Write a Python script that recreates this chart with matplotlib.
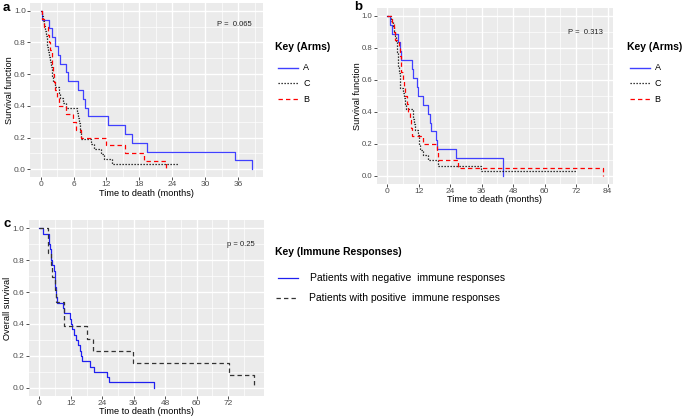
import numpy as np
import matplotlib
matplotlib.use("Agg")
import matplotlib.pyplot as plt
from matplotlib.lines import Line2D
from matplotlib.ticker import MultipleLocator, FixedLocator, FormatStrFormatter

plt.rcParams['font.family'] = ['Liberation Sans', 'DejaVu Sans']

# ---- panel a: survival by arm (time in months, survival after each event)
a_A_t = [0.2, 1.6, 2.05, 2.65, 3.1, 3.45, 4.65, 4.95, 6.9, 7.65, 8.1, 8.55, 12.35, 15.35, 16.7, 19.4, 35.35, 38.6]
a_A_s = [0.944, 0.889, 0.833, 0.778, 0.722, 0.667, 0.611, 0.556, 0.5, 0.444, 0.389, 0.333, 0.278, 0.222, 0.167, 0.111, 0.056, 0.0]
a_C_t = [0.2, 0.4, 0.6, 0.8, 1.0, 1.1, 1.2, 1.3, 1.5, 1.7, 1.9, 2.0, 2.1, 2.2, 2.7, 3.4, 3.6, 4.0, 4.7,
         6.6, 6.9, 7.0, 7.1, 7.2, 7.4, 9.2, 9.8, 11.0, 11.6, 13.0, 25.1]
a_C_s = [0.968, 0.935, 0.903, 0.871, 0.839, 0.806, 0.774, 0.742, 0.71, 0.677, 0.645, 0.613, 0.581, 0.548,
         0.516, 0.484, 0.452, 0.419, 0.387, 0.355, 0.323, 0.29, 0.258, 0.226, 0.194, 0.161, 0.129, 0.097,
         0.065, 0.032, 0.032]
a_B_t = [0.2, 0.6, 1.3, 1.5, 1.8, 2.0, 2.1, 2.2, 2.4, 2.6, 3.0, 3.3, 4.6, 5.9, 6.4, 7.3, 12.0, 15.4, 18.8, 22.9]
a_B_s = [0.95, 0.9, 0.85, 0.8, 0.75, 0.7, 0.65, 0.6, 0.55, 0.5, 0.45, 0.4, 0.35, 0.3, 0.25, 0.2, 0.15, 0.1, 0.05, 0.0]

# ---- panel b
b_A_t = [0.8, 1.65, 4.2, 4.8, 5.2, 9.5, 9.7, 11.4, 11.5, 13.4, 15.3, 16.2, 16.6, 18.5, 19.1, 26.3, 44.1]
b_A_s = [0.944, 0.889, 0.833, 0.778, 0.722, 0.667, 0.611, 0.556, 0.5, 0.444, 0.389, 0.333, 0.278, 0.222, 0.167, 0.111, 0.0]
b_C_t = [1.3, 2.0, 2.5, 3.0, 3.2, 3.5, 3.7, 3.9, 4.0, 4.2, 4.4, 4.6, 4.7, 4.8, 6.1, 6.3, 6.6, 7.0, 9.6,
         9.9, 10.2, 10.5, 11.7, 12.0, 12.2, 12.4, 13.4, 15.6, 19.2, 35.8, 72.5]
b_C_s = [0.968, 0.935, 0.903, 0.871, 0.839, 0.806, 0.774, 0.742, 0.71, 0.677, 0.645, 0.613, 0.581, 0.548,
         0.516, 0.484, 0.452, 0.419, 0.387, 0.355, 0.323, 0.29, 0.258, 0.226, 0.194, 0.161, 0.129, 0.097,
         0.065, 0.029, 0.029]
b_B_t = [1.9, 2.5, 3.0, 4.3, 4.8, 5.0, 5.3, 6.0, 6.3, 6.6, 7.4, 8.0, 8.6, 9.0, 9.5, 13.7, 19.0, 19.4, 26.9, 82.1]
b_B_s = [0.95, 0.9, 0.85, 0.8, 0.75, 0.7, 0.65, 0.6, 0.55, 0.5, 0.45, 0.4, 0.35, 0.3, 0.25, 0.2, 0.15, 0.1, 0.05, 0.0]

# ---- panel c: by immune response
c_neg_t = [1.5, 3.6, 3.8, 4.0, 4.3, 4.6, 5.0, 5.5, 5.8, 6.0, 6.1, 6.2, 6.4, 6.6, 9.2, 9.4, 11.6, 11.9,
           12.5, 13.3, 14.0, 14.8, 15.6, 15.9, 16.4, 19.3, 21.0, 25.7, 26.6, 43.9]
c_neg_s = [0.967, 0.933, 0.9, 0.867, 0.833, 0.8, 0.767, 0.733, 0.7, 0.667, 0.633, 0.6, 0.567, 0.533, 0.5,
           0.467, 0.433, 0.4, 0.367, 0.333, 0.3, 0.267, 0.233, 0.2, 0.167, 0.133, 0.1, 0.067, 0.033, 0.0]
c_pos_t = [3.2, 3.4, 4.5, 5.0, 6.0, 6.2, 9.3, 9.6, 18.3, 20.4, 35.6, 72.3, 81.7]
c_pos_s = [0.923, 0.846, 0.769, 0.692, 0.615, 0.538, 0.462, 0.385, 0.308, 0.231, 0.154, 0.077, 0.0]
c_breaks = [0, 12, 24, 36, 48, 60, 72]

W, H = 685, 417
fig = plt.figure(figsize=(W / 100, H / 100), dpi=100)


def box(l, t, r, b):
    return [l / W, 1 - b / H, (r - l) / W, (b - t) / H]


def fx(px):
    return px / W


def fy(py):
    return 1 - py / H


def km(ax, t, s, **kw):
    ax.step([0] + list(t), [1.0] + list(s), where='post', **kw)


def style(ax, xmax, step, breaks=None):
    ax.set_facecolor('#EBEBEB')
    ax.set_xlim(-0.05 * xmax, 1.05 * xmax)
    ax.set_ylim(-0.05, 1.05)
    if breaks is None:
        ax.xaxis.set_major_locator(MultipleLocator(step))
        ax.xaxis.set_minor_locator(MultipleLocator(step / 2))
    else:
        ax.xaxis.set_major_locator(FixedLocator(breaks))
        ax.xaxis.set_minor_locator(FixedLocator([b + step / 2 for b in breaks]))
    ax.yaxis.set_major_locator(MultipleLocator(0.2))
    ax.yaxis.set_minor_locator(MultipleLocator(0.1))
    ax.yaxis.set_major_formatter(FormatStrFormatter('%.1f'))
    ax.grid(which='major', color='white', lw=1.0)
    ax.grid(which='minor', color='white', lw=0.5)
    ax.set_axisbelow(True)
    for sp in ax.spines.values():
        sp.set_visible(False)
    ax.tick_params(which='major', length=2, width=0.6, color='#333333', labelsize=6,
                   labelcolor='#4D4D4D', pad=1)
    ax.tick_params(which='minor', length=0)


BLUE = '#4040FF'
dot = (0, (1, 1.4))
dash = (0, (3.5, 2.5))

# panel a
axa = fig.add_axes(box(30, 2.8, 263, 177.2))
km(axa, a_A_t, a_A_s, color=BLUE, lw=0.9)
km(axa, a_C_t, a_C_s, color='black', lw=0.9, linestyle=dot)
km(axa, a_B_t, a_B_s, color='red', lw=0.9, linestyle=dash)
style(axa, max(a_A_t + a_C_t + a_B_t), 6)

# panel b
axb = fig.add_axes(box(376.7, 7.7, 613.3, 184))
km(axb, b_A_t, b_A_s, color=BLUE, lw=0.9)
km(axb, b_C_t, b_C_s, color='black', lw=0.9, linestyle=dot)
km(axb, b_B_t, b_B_s, color='red', lw=0.9, linestyle=dash)
style(axb, max(b_A_t + b_C_t + b_B_t), 12)
axb.tick_params(axis='y', labelsize=5.6)

# panel c
axc = fig.add_axes(box(28.6, 220.3, 264.3, 395.7))
km(axc, c_neg_t, c_neg_s, color='#2020F0', lw=0.9)
km(axc, c_pos_t, c_pos_s, color='#333333', lw=0.9, linestyle=dash)
style(axc, max(c_neg_t + c_pos_t), 12, c_breaks)

# axis titles
lab = dict(fontsize=6.6, color='black')
fig.text(fx(146), fy(193), 'Time to death (months)', ha='center', va='center', **lab)
fig.text(fx(10), fy(90), 'Survival function', rotation=90, ha='center', va='center', **lab)
fig.text(fx(494), fy(199.5), 'Time to death (months)', ha='center', va='center', **lab)
fig.text(fx(357), fy(96), 'Survival function', rotation=90, ha='center', va='center', **lab)
fig.text(fx(146), fy(411), 'Time to death (months)', ha='center', va='center', **lab)
fig.text(fx(8), fy(308), 'Overall survival', rotation=90, ha='center', va='center', **lab)

# panel letters
for s, x, y in [('a', 3, 8), ('b', 354, 7), ('c', 4, 224)]:
    fig.text(fx(x), fy(y), s, fontsize=9.5, fontweight='bold', ha='left', va='center')

# p values
fig.text(fx(216.7), fy(25), 'P =  0.065', fontsize=5.5, color='#222222', ha='left', va='center')
fig.text(fx(567.7), fy(32), 'P =  0.313', fontsize=5.5, color='#222222', ha='left', va='center')
fig.text(fx(227.3), fy(245), 'p = 0.25', fontsize=5.5, color='#222222', ha='left', va='center')


# legends
def key_line(x0, x1, y, **kw):
    fig.add_artist(Line2D([fx(x0), fx(x1)], [fy(y), fy(y)], transform=fig.transFigure, **kw))


arm_names = ['A', 'C', 'B']
arm_styles = [dict(color=BLUE, lw=1.0),
              dict(color='black', lw=0.9, linestyle=dot),
              dict(color='red', lw=0.9, linestyle=dash)]
arm_y = [67.7, 83.3, 99.3]
for lx in [275, 626.7]:
    fig.text(fx(lx), fy(46.7), 'Key (Arms)', fontsize=7.5, fontweight='bold', ha='left', va='center')
    for name, st, y in zip(arm_names, arm_styles, arm_y):
        key_line(lx + 3, lx + 23, y, **st)
        fig.text(fx(lx + 28), fy(y), name, fontsize=6.5, ha='left', va='center')

fig.text(fx(275), fy(252.3), 'Key (Immune Responses)', fontsize=7.5, fontweight='bold',
         ha='left', va='center')
key_line(278, 298, 277.7, color='#2020F0', lw=0.9)
fig.text(fx(310), fy(277.7), 'Patients with negative  immune responses', fontsize=7.5,
         ha='left', va='center')
key_line(276, 298, 298.3, color='#333333', lw=0.9, linestyle=dash)
fig.text(fx(309), fy(298.3), 'Patients with positive  immune responses', fontsize=7.5,
         ha='left', va='center')

fig.savefig('out.png', dpi=100)
